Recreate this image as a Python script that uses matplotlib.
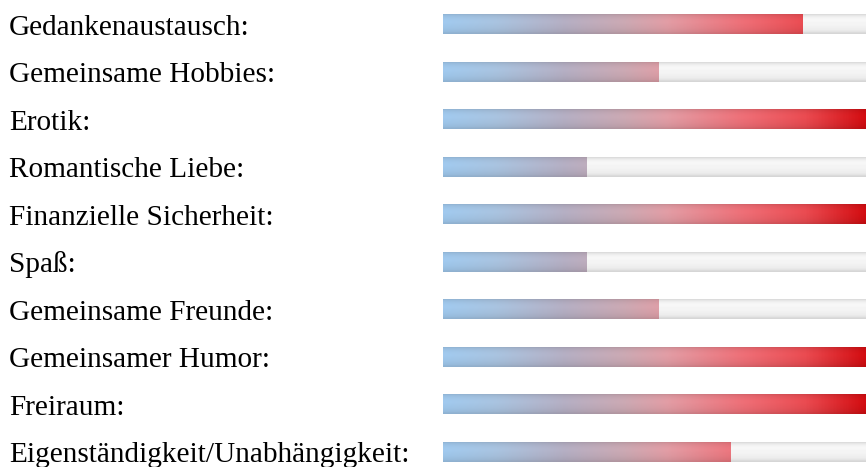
import numpy as np
import matplotlib
matplotlib.use("Agg")
import matplotlib.pyplot as plt
from matplotlib.colors import LinearSegmentedColormap
from matplotlib.transforms import blended_transform_factory

labels = ["Gedankenaustausch:", "Gemeinsame Hobbies:", "Erotik:", "Romantische Liebe:",
          "Finanzielle Sicherheit:", "Spaß:", "Gemeinsame Freunde:", "Gemeinsamer Humor:",
          "Freiraum:", "Eigenständigkeit/Unabhängigkeit:"]
values = [5, 3, 6, 2, 6, 2, 3, 6, 6, 4]
max_value = 6

plt.rcParams['font.family'] = ['Liberation Serif', 'DejaVu Serif']

fig = plt.figure(figsize=(8.66, 4.67), dpi=100)
ax = fig.add_axes([443 / 866, 0, 1 - 443 / 866, 1])
ax.set_axis_off()
n = len(labels)

bar_cmap = LinearSegmentedColormap.from_list("bar", [
    (0.0, "#9ec6ea"), (0.12, "#a6c0dc"), (0.28, "#b2acc0"), (0.42, "#c8a6b0"),
    (0.52, "#de9aa2"), (0.7, "#ea6c74"), (0.84, "#e64a50"), (1.0, "#cc0408")])

# horizontal gradient with a little vertical shading
xs = np.linspace(0, 1, 400)
rgb = bar_cmap(xs)[:, :3]
vert = np.array([0.9, 0.96, 0.99, 1.01, 1.02, 1.02, 1.01, 1.0, 0.99, 0.97, 0.95, 0.9])
img = np.clip(vert[:, None, None] * rgb[None, :, :], 0, 1)

track_vert = np.array([0.84, 0.91, 0.95, 0.97, 0.97, 0.96, 0.96, 0.95, 0.94, 0.93, 0.9, 0.84])
track_img = np.ones((len(track_vert), 2, 3)) * track_vert[:, None, None]

h = 20 / 47.55
tr = blended_transform_factory(fig.transFigure, ax.transData)
for i, (lab, v) in enumerate(zip(labels, values)):
    track = ax.barh(i, max_value, height=h, color="none", edgecolor="none")[0]
    im = ax.imshow(track_img, extent=(0, max_value, i + h / 2, i - h / 2),
                   aspect="auto", interpolation="bilinear")
    im.set_clip_path(track)
    bar = ax.barh(i, v, height=h, color="none", edgecolor="none")[0]
    im2 = ax.imshow(img, extent=(0, max_value, i + h / 2, i - h / 2),
                    aspect="auto", interpolation="bilinear")
    im2.set_clip_path(bar)
    ax.text(9 / 866, i + 10.5 / 47.55, lab, transform=tr, ha="left", va="baseline",
            fontsize=21.1, color="black")

ax.set_xlim(0, max_value * 423 / 431)
ax.set_ylim(n - 1 + (467 - 452) / 47.55, -24 / 47.55)
fig.savefig("out.png", dpi=100)
